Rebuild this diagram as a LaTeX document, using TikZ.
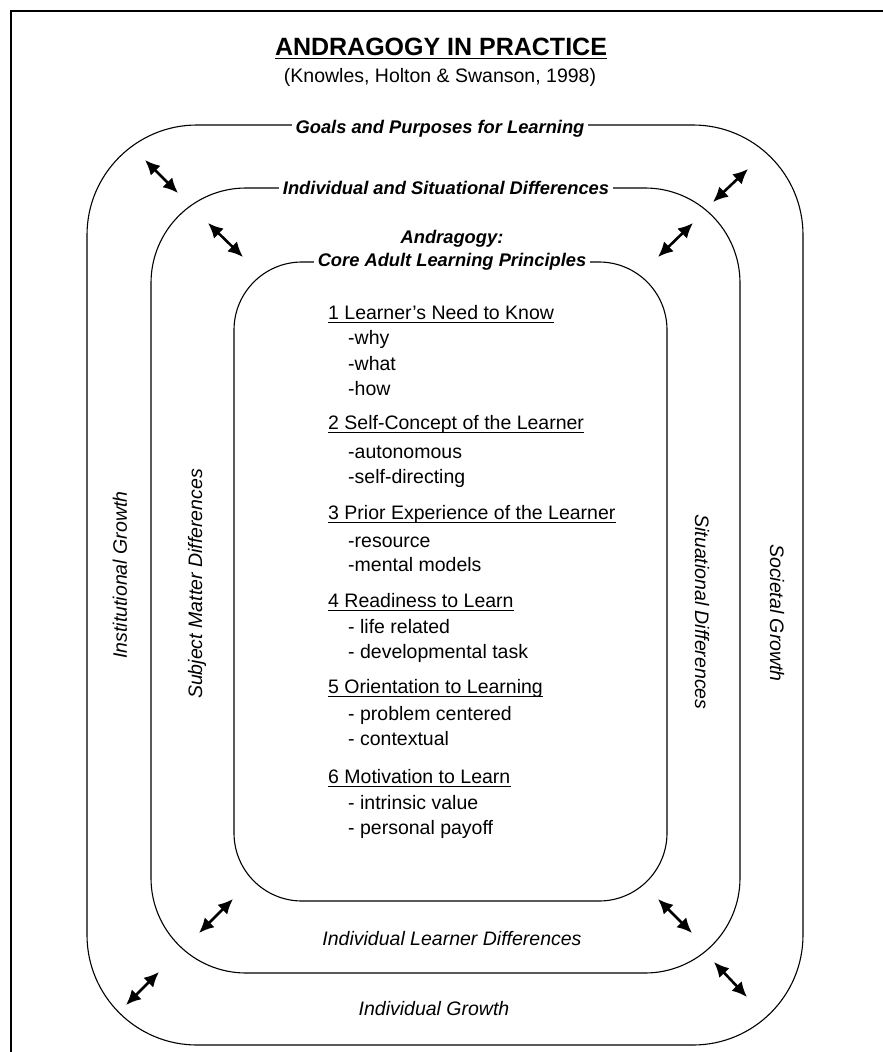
\documentclass[tikz,border=0pt]{standalone}
\usepackage{fontspec}
\setmainfont{Liberation Sans}
\usetikzlibrary{arrows.meta}
\begin{document}
\begin{tikzpicture}[x=1pt,y=-1pt,
  box/.style={draw, line width=1.1pt, inner sep=0pt},
  lab/.style={font=\fontsize{18.3}{22}\selectfont\bfseries\itshape, fill=white, inner xsep=4pt, inner ysep=1pt, anchor=base},
  side/.style={font=\fontsize{19.5}{23}\selectfont\itshape, inner sep=0pt},
  txt/.style={font=\fontsize{19.5}{23}\selectfont, anchor=base west, inner sep=0pt},
  ul/.style={line width=1.1pt},
  dbl/.style={{Latex[length=15pt,width=14pt]}-{Latex[length=15pt,width=14pt]}, line width=2.6pt},
]
\useasboundingbox (0,0) rectangle (883,1052);
% frame
\coordinate (fa) at (11,1052);
\coordinate (fb) at (11,11);
\coordinate (fc) at (883,11);
\draw[line width=1.6pt] (fa) -- (fb) -- (fc);

% title
\node[font=\fontsize{25}{30}\selectfont\bfseries, anchor=base, inner sep=0pt] (title) at (441,55) {ANDRAGOGY IN PRACTICE};
\draw[line width=1.8pt] ([yshift=-3.5pt]title.base west) -- ([yshift=-3.5pt]title.base east);
\node[font=\fontsize{19.5}{23}\selectfont, anchor=base, inner sep=0pt] (sub) at (440,82) {(Knowles, Holton \& Swanson, 1998)};

% boxes
\node[box, rounded corners=110pt, minimum width=716pt, minimum height=920pt] (outer) at (445,585) {};
\node[box, rounded corners=95pt, minimum width=589pt, minimum height=785pt] (middle) at (445.5,580.5) {};
\node[box, rounded corners=68pt, minimum width=433pt, minimum height=639pt] (inner) at (450.5,581.5) {};

% box labels
\node[lab] (goals) at (440,133) {Goals and Purposes for Learning};
\node[lab] (indsit) at (446,194) {Individual and Situational Differences};
\node[lab, fill=none] (andr) at (452,243) {Andragogy:};
\node[lab] (core) at (452,266) {Core Adult Learning Principles};

% side labels
\node[side, rotate=90] (inst) at (120,575) {Institutional Growth};
\node[side, rotate=90] (subj) at (197,584) {Subject Matter Differences};
\node[side, rotate=-90] (situ) at (702,612) {Situational Differences};
\node[side, rotate=-90] (soci) at (777,613) {Societal Growth};
\node[side, anchor=base] (ild) at (452,945) {Individual Learner Differences};
\node[side, anchor=base] (ig) at (434,1015) {Individual Growth};

% principles
\node[txt] (h1) at (328,319) {1 Learner's Need to Know};
\node[txt] (s11) at (348,344) {-why};
\node[txt] (s12) at (348,370) {-what};
\node[txt] (s13) at (348,395) {-how};
\node[txt] (h2) at (328,429) {2 Self-Concept of the Learner};
\node[txt] (s21) at (348,458) {-autonomous};
\node[txt] (s22) at (348,483) {-self-directing};
\node[txt] (h3) at (328,519) {3 Prior Experience of the Learner};
\node[txt] (s31) at (348,547) {-resource};
\node[txt] (s32) at (348,571) {-mental models};
\node[txt] (h4) at (328,607) {4 Readiness to Learn};
\node[txt] (s41) at (348,633) {- life related};
\node[txt] (s42) at (348,658) {- developmental task};
\node[txt] (h5) at (328,693) {5 Orientation to Learning};
\node[txt] (s51) at (348,720) {- problem centered};
\node[txt] (s52) at (348,745) {- contextual};
\node[txt] (h6) at (328,783) {6 Motivation to Learn};
\node[txt] (s61) at (348,809) {- intrinsic value};
\node[txt] (s62) at (348,834) {- personal payoff};
\foreach \h in {h1,h2,h3,h4,h5,h6}
  \draw[ul] ([yshift=-3.5pt]\h.base west) -- ([yshift=-3.5pt]\h.base east);

% arrows
\coordinate (a1s) at (145,160); \coordinate (a1e) at (178,193);
\coordinate (a2s) at (208,223); \coordinate (a2e) at (243,257);
\coordinate (a3s) at (713,202); \coordinate (a3e) at (748,169);
\coordinate (a4s) at (658,257); \coordinate (a4e) at (693,223);
\coordinate (a5s) at (199,933); \coordinate (a5e) at (233,899);
\coordinate (a6s) at (126,1005); \coordinate (a6e) at (159,972);
\coordinate (a7s) at (658,899); \coordinate (a7e) at (692,933);
\coordinate (a8s) at (714,962); \coordinate (a8e) at (747,997);
\foreach \i in {1,...,8}
  \draw[dbl] (a\i s) -- (a\i e);
\end{tikzpicture}
\end{document}
